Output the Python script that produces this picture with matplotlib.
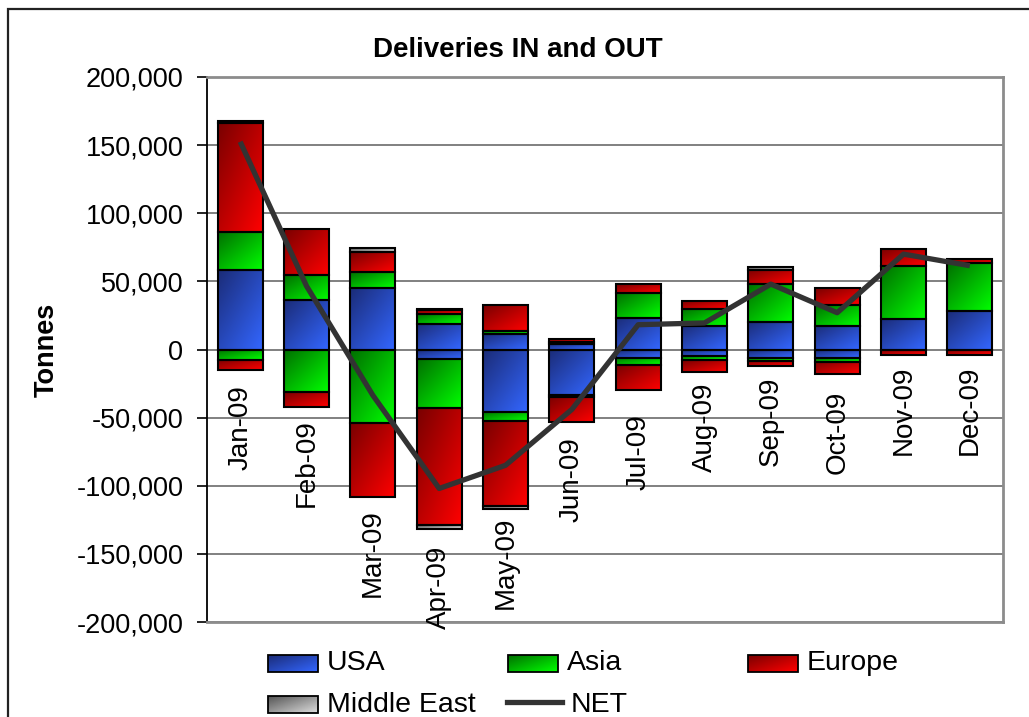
import numpy as np
import matplotlib
matplotlib.use("Agg")
import matplotlib.pyplot as plt
from matplotlib.colors import LinearSegmentedColormap
from matplotlib.patches import Rectangle
from matplotlib.lines import Line2D
from matplotlib.ticker import FuncFormatter, MultipleLocator

plt.rcParams['font.family'] = ['Liberation Sans', 'DejaVu Sans']

# data (tonnes)
months = ['Jan-09', 'Feb-09', 'Mar-09', 'Apr-09', 'May-09', 'Jun-09',
          'Jul-09', 'Aug-09', 'Sep-09', 'Oct-09', 'Nov-09', 'Dec-09']
usa_in = [58600, 36600, 45200, 19000, 11500, 3700, 23200, 17000, 20300, 17000, 22700, 28300]
asia_in = [27300, 18000, 11700, 7100, 2400, 1700, 18300, 13000, 27800, 15900, 38300, 35200]
europe_in = [80600, 34100, 14400, 3200, 19000, 2000, 6600, 5900, 10500, 12200, 12700, 3200]
me_in = [1200, 0, 3500, 700, 0, 0, 0, 0, 1700, 0, 0, 0]
usa_out = [0, 0, 0, -7300, -45900, -33500, -6000, -5000, -6000, -6600, 0, 0]
asia_out = [-7800, -31000, -53700, -35900, -6800, -1000, -5600, -3000, -2500, -2500, 0, 0]
europe_out = [-7400, -11000, -54900, -85700, -62500, -18500, -18000, -8500, -3700, -9000, -4000, -4000]
me_out = [0, 0, 0, -3000, -1500, 0, 0, 0, 0, 0, 0, 0]
net = [152500, 46600, -33600, -102000, -85000, -44000, 18200, 19500, 48000, 27000, 70000, 61500]

W, H = 1029, 717
fig = plt.figure(figsize=(W / 100, H / 100), dpi=100)


def fx(px):
    return px / W


def fy(py):
    return 1 - py / H


ax = fig.add_axes([fx(207), fy(622), fx(1003) - fx(207), fy(77) - fy(622)])

# gradient colour maps (dark top-left -> bright bottom-right)
cmaps = {
    'USA': LinearSegmentedColormap.from_list('usa', ['#1b2c78', '#3366ff']),
    'Asia': LinearSegmentedColormap.from_list('asia', ['#007000', '#00ff00']),
    'Europe': LinearSegmentedColormap.from_list('eu', ['#7a0000', '#ff0000']),
    'Middle East': LinearSegmentedColormap.from_list('me', ['#555555', '#dcdcdc']),
}
n = 32
cc, rr = np.meshgrid(np.linspace(0, 1, n), np.linspace(0, 1, n))
grad = (cc + (1 - rr)) / 2  # origin lower: rr=1 is top

x = np.arange(len(months))
bw = 0.68


def grad_bars(vals, bottoms, name):
    bars = ax.bar(x, vals, bw, bottom=bottoms, facecolor='none',
                  edgecolor='black', linewidth=1.5, zorder=3)
    for rect, v in zip(bars, vals):
        if v == 0:
            rect.set_visible(False)
            continue
        x0 = rect.get_x()
        y0 = rect.get_y()
        y1 = y0 + rect.get_height()
        im = ax.imshow(grad, extent=[x0, x0 + bw, min(y0, y1), max(y0, y1)],
                       origin='lower', aspect='auto', cmap=cmaps[name],
                       interpolation='bilinear', zorder=2)
        im.set_clip_path(rect)


pos_bottom = np.zeros(len(months))
for vals, name in [(usa_in, 'USA'), (asia_in, 'Asia'), (europe_in, 'Europe'), (me_in, 'Middle East')]:
    grad_bars(vals, pos_bottom.copy(), name)
    pos_bottom += np.array(vals)

neg_bottom = np.zeros(len(months))
for vals, name in [(usa_out, 'USA'), (asia_out, 'Asia'), (europe_out, 'Europe'), (me_out, 'Middle East')]:
    grad_bars(vals, neg_bottom.copy(), name)
    neg_bottom += np.array(vals)

ax.plot(x, net, color='#333333', linewidth=3.8, zorder=5, solid_capstyle='butt')

ax.set_xlim(-0.5, len(months) - 0.5)
ax.set_ylim(-200000, 200000)
ax.yaxis.set_major_locator(MultipleLocator(50000))
ax.yaxis.set_major_formatter(FuncFormatter(lambda v, p: f'{v:,.0f}'))
ax.set_xticks([])
ax.tick_params(axis='y', labelsize=19.5, length=7, width=1.2, pad=10, direction='out')
ax.yaxis.grid(True, color='#808080', linewidth=1.4)
ax.set_axisbelow(True)
ax.spines['left'].set_color('black')
ax.spines['left'].set_linewidth(1.3)
for s in ['top', 'right', 'bottom']:
    ax.spines[s].set_color('#8c8c8c')
    ax.spines[s].set_linewidth(2)

# month labels sit below each column
for i, m in enumerate(months):
    ax.annotate(m, (i, neg_bottom[i]), xytext=(0, -100), textcoords='offset pixels',
                rotation=90, ha='center', va='bottom', fontsize=20, zorder=6)

fig.text(fx(518), fy(50), 'Deliveries IN and OUT', ha='center', va='center',
         fontsize=20, fontweight='bold')
fig.text(fx(47), fy(350), 'Tonnes', ha='center', va='center', rotation=90,
         fontsize=19.5, fontweight='bold')

# outer chart frame
fig.add_artist(Rectangle((fx(8), -0.2), 1.2, fy(9) + 0.2, transform=fig.transFigure,
                         facecolor='none', edgecolor='#222222', linewidth=1.6))

# legend drawn by hand (Excel style even spacing)
legend_items = [('USA', 268, 663.5), ('Asia', 508, 663.5), ('Europe', 748, 663.5),
                ('Middle East', 268, 704.5)]
for name, lx, ly in legend_items:
    pw, ph = 50, 17
    r = Rectangle((fx(lx), fy(ly + ph / 2)), fx(pw), ph / H, transform=fig.transFigure,
                  facecolor='none', edgecolor='black', linewidth=1.3, zorder=3)
    fig.add_artist(r)
    lax = fig.add_axes([fx(lx), fy(ly + ph / 2), fx(pw), ph / H])
    lax.imshow(grad, origin='lower', aspect='auto', cmap=cmaps[name],
               interpolation='bilinear', extent=[0, 1, 0, 1])
    lax.set_axis_off()
    fig.text(fx(lx + pw + 9), fy(ly), name, ha='left', va='center', fontsize=20.5)
fig.add_artist(Line2D([fx(507), fx(562)], [fy(702), fy(702)], transform=fig.transFigure,
                      color='#333333', linewidth=3.8))
fig.text(fx(571), fy(704.5), 'NET', ha='left', va='center', fontsize=20.5)

fig.savefig('out.png', dpi=100)
